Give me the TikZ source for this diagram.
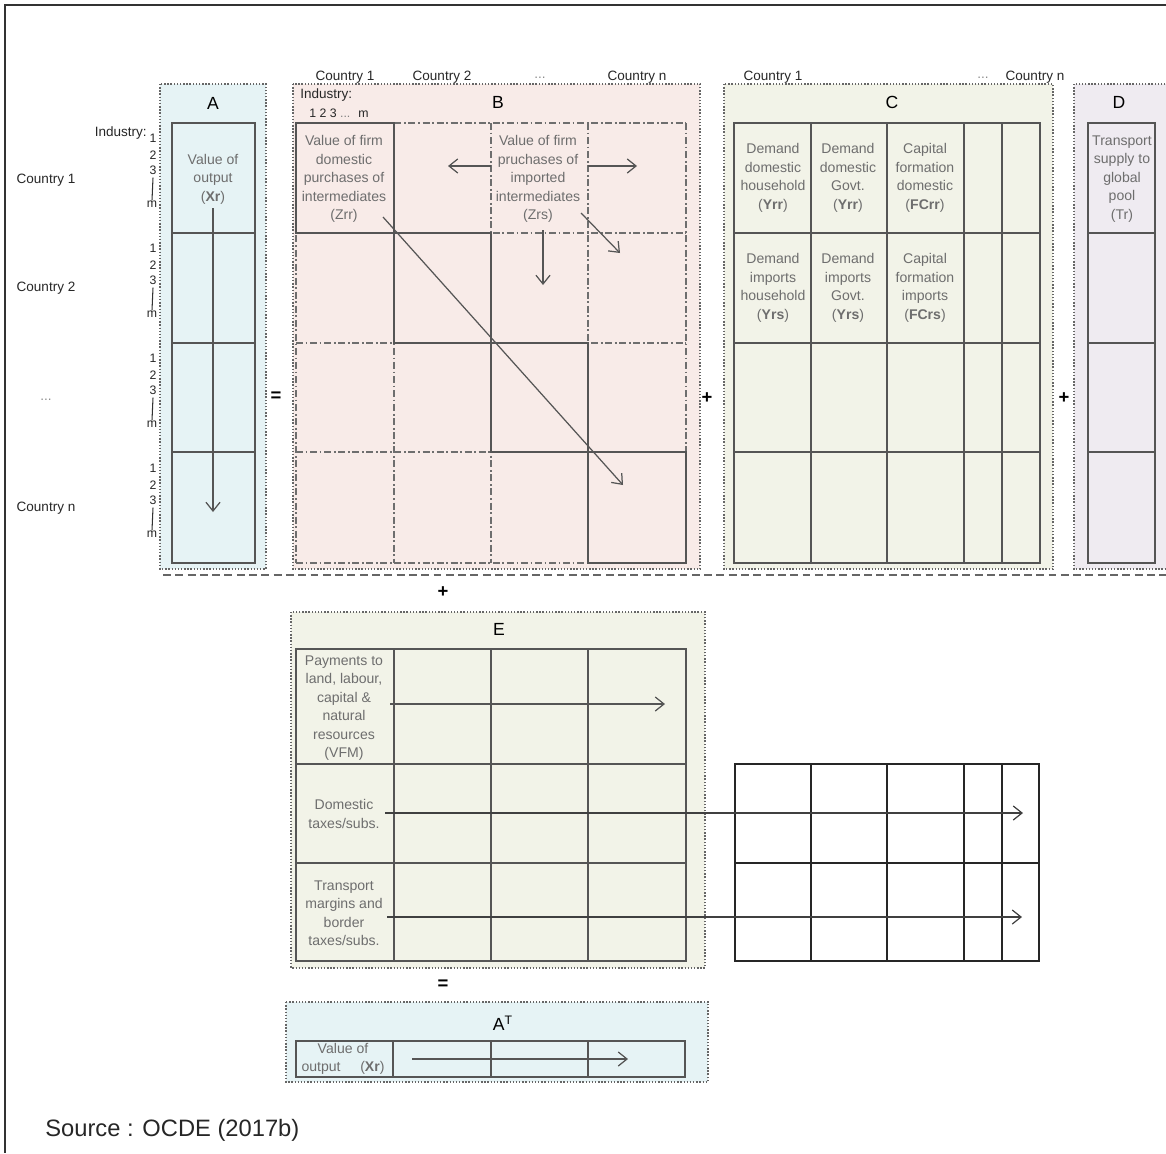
\documentclass[tikz,border=0pt]{standalone}
\usepackage{fontspec}
\setmainfont{Liberation Sans}
\usepackage{tikz}
\usetikzlibrary{positioning,arrows.meta,calc}
\definecolor{fillA}{HTML}{E6F3F5}
\definecolor{fillB}{HTML}{F8EBE8}
\definecolor{fillC}{HTML}{F2F3E8}
\definecolor{fillD}{HTML}{EFEBF1}
\definecolor{gridgray}{HTML}{555555}
\definecolor{textgray}{HTML}{6E6E6E}
\tikzstyle{panel}=[draw=black!60, densely dotted, line width=0.8pt]
\tikzstyle{cell}=[draw=gridgray, line width=0.85pt]
\tikzstyle{dashcell}=[draw=gridgray!85, line width=0.75pt, dash pattern=on 4pt off 1.5pt on 1pt off 1.5pt]
\tikzstyle{txt}=[text=textgray, align=center, inner sep=0pt, font=\fontsize{8}{10.5}\selectfont]
\tikzstyle{lbl}=[text=black!85, inner sep=0pt, font=\fontsize{7.7}{9}\selectfont]
\tikzstyle{num}=[text=black!85, inner sep=0pt, font=\fontsize{7}{8}\selectfont]
\tikzstyle{title}=[inner sep=0pt, font=\fontsize{10}{12}\selectfont]
\tikzstyle{op}=[inner sep=0pt, font=\fontsize{10.5}{11}\selectfont\bfseries]
\tikzstyle{arrow}=[-{Straight Barb[length=5pt,width=8pt]}, draw=gridgray, line width=0.7pt]

\begin{document}
\begin{tikzpicture}[x=0.02cm, y=-0.02cm]
    \clip (0,0) rectangle (1166,1153);
    \draw[black!80, line width=1pt] (1166,5) -- (5,5) -- (5,1153);

    % A
    \filldraw[panel, fill=fillA] (160,84) rectangle (266,569);
    \draw[cell] (172,123) rectangle (255,563);
    \foreach \y in {233,343,452} \draw[cell] (172,\y) -- (255,\y);
    \node[title] (titleA) at (213,103) {A};
    \node[txt] (valA) at (213,179) {Value of\\output\\(\textbf{Xr})};
    \coordinate (xtop) at (213,208); \coordinate (xbot) at (213,512);
    \draw[arrow] (xtop) -- (xbot);

    % countries and industries on the left
    \node[lbl, anchor=east] (indA) at (147,133) {Industry:};
    \foreach \n/\t/\y in {c1/Country 1/180, c2/Country 2/288, cn/Country n/508}
        \node[lbl] (left\n) at (46,\y) {\t};
    \node[lbl, text=black!45] (leftdots) at (46,400) {...};
    \foreach \k in {0,1,2,3} {
        \node[num] (one\k) at (153,{138+110*\k}) {1};
        \node[num] (two\k) at (153,{155+110*\k}) {2};
        \node[num] (three\k) at (153,{170+110*\k}) {3};
        \node[num] (m\k) at (152,{204+110*\k}) {m};
        \draw[black!80, line width=0.6pt] (three\k.south) ++(0,3) -- (m\k.north);
    }

    \node[op] (eq1) at (276,397) {=};

    % B
    \filldraw[panel, fill=fillB] (293,84) rectangle (700,569);
    \foreach \x in {296,394,491,588,686} \draw[dashcell] (\x,123) -- (\x,563);
    \foreach \y in {123,233,343,452,563} \draw[dashcell] (296,\y) -- (686,\y);
    \foreach \xa/\ya/\xb/\yb in {296/123/394/233, 394/233/491/343, 491/343/588/452, 588/452/686/563}
        \draw[cell] (\xa,\ya) rectangle (\xb,\yb);
    \node[title] (titleB) at (498,102) {B};
    \foreach \n/\t/\x in {b1/Country 1/345, b2/Country 2/442, bn/Country n/637}
        \node[lbl] (top\n) at (\x,77) {\t};
    \node[lbl, text=black!45] (topbdots) at (540,78) {...};
    \node[lbl, anchor=west] (indB) at (300,95) {Industry:};
    \node[num, anchor=west] (indBnum) at (309,113) {1 2 3 \textcolor{black!50}{...} \ m};
    \node[txt] (zrr) at (344,179) {Value of firm\\domestic\\purchases of\\intermediates\\(Zrr)};
    \node[txt] (zrs) at (538,179) {Value of firm\\pruchases of\\imported\\intermediates\\(Zrs)};

    \coordinate (zl0) at (491,166); \coordinate (zl1) at (448,166);
    \coordinate (zr0) at (588,166); \coordinate (zr1) at (637,166);
    \coordinate (zd0) at (543,230); \coordinate (zd1) at (543,285);
    \coordinate (zs0) at (581,213); \coordinate (zs1) at (620,253);
    \coordinate (zg0) at (383,217); \coordinate (zg1) at (623,485);
    \draw[arrow] (zl0) -- (zl1);
    \draw[arrow] (zr0) -- (zr1);
    \draw[arrow] (zd0) -- (zd1);
    \draw[arrow] (zs0) -- (zs1);
    \draw[arrow] (zg0) -- (zg1);

    \node[op] (plus1) at (707,398) {+};

    % C
    \filldraw[panel, fill=fillC] (724,84) rectangle (1053,569);
    \draw[cell] (734,123) rectangle (1040,563);
    \foreach \x in {811,887,964,1002} \draw[cell] (\x,123) -- (\x,563);
    \foreach \y in {233,343,452} \draw[cell] (734,\y) -- (1040,\y);
    \node[title] (titleC) at (892,102) {C};
    \node[lbl] (topc1) at (773,77) {Country 1};
    \node[lbl, text=black!45] (topcdots) at (983,78) {...};
    \node[lbl] (topcn) at (1035,77) {Country n};
    \node[txt] (yrrh) at (773,178) {Demand\\domestic\\household\\(\textbf{Yrr})};
    \node[txt] (yrrg) at (848,178) {Demand\\domestic\\Govt.\\(\textbf{Yrr})};
    \node[txt] (fcrr) at (925,178) {Capital\\formation\\domestic\\(\textbf{FCrr})};
    \node[txt] (yrsh) at (773,288) {Demand\\imports\\household\\(\textbf{Yrs})};
    \node[txt] (yrsg) at (848,288) {Demand\\imports\\Govt.\\(\textbf{Yrs})};
    \node[txt] (fcrs) at (925,288) {Capital\\formation\\imports\\(\textbf{FCrs})};

    \node[op] (plus2) at (1064,398) {+};

    % D
    \filldraw[panel, fill=fillD] (1074,84) rectangle (1185,569);
    \draw[cell] (1088,123) rectangle (1155,563);
    \foreach \y in {233,343,452} \draw[cell] (1088,\y) -- (1155,\y);
    \node[title] (titleD) at (1119,102) {D};
    \node[txt] (tr) at (1122,179) {Transport\\supply to\\global\\pool\\(Tr)};

    \draw[black!60, line width=0.8pt, dash pattern=on 4.5pt off 2.5pt] (163,575) -- (1166,575);

    \node[op] (plus3) at (443,592) {+};

    % E
    \filldraw[panel, fill=fillC] (291,612) rectangle (705,968);
    \draw[cell] (296,649) rectangle (686,961);
    \foreach \x in {394,491,588} \draw[cell] (\x,649) -- (\x,961);
    \foreach \y in {764,863} \draw[cell] (296,\y) -- (686,\y);
    \node[title] (titleE) at (499,629) {E};
    \node[txt] (vfm) at (344,708) {Payments to\\land, labour,\\capital \&\\natural\\resources\\(VFM)};
    \node[txt] (dtax) at (344,814) {Domestic\\taxes/subs.};
    \node[txt] (btax) at (344,913) {Transport\\margins and\\border\\taxes/subs.};

    % grid on the right
    \draw[black!85, line width=1pt] (735,764) rectangle (1039,961);
    \foreach \x in {811,887,964,1002} \draw[black!85, line width=1pt] (\x,764) -- (\x,961);
    \draw[black!85, line width=1pt] (735,863) -- (1039,863);

    \coordinate (e10) at (390,704); \coordinate (e11) at (665,704);
    \coordinate (e20) at (385,813); \coordinate (e21) at (1023,813);
    \coordinate (e30) at (387,917); \coordinate (e31) at (1022,917);
    \draw[arrow] (e10) -- (e11);
    \draw[arrow, draw=black!75] (e20) -- (e21);
    \draw[arrow, draw=black!75] (e30) -- (e31);

    \node[op] (eq2) at (443,985) {=};

    % A transposed
    \filldraw[panel, fill=fillA] (286,1002) rectangle (708,1082);
    \draw[cell] (296,1041) rectangle (685,1077);
    \foreach \x in {393,491,588} \draw[cell] (\x,1041) -- (\x,1077);
    \node[title] (titleAT) at (503,1023) {A\textsuperscript{\scriptsize T}};
    \node[txt] (valAT) at (343,1059) {Value of\\output\hspace{1.4em}(\textbf{Xr})};
    \coordinate (t0) at (412,1059); \coordinate (t1) at (628,1059);
    \draw[arrow] (t0) -- (t1);

    \node[anchor=west, inner sep=0pt, text=black!85, font=\fontsize{13.5}{16}\selectfont] (source) at (45,1130) {Source : OCDE (2017b)};
\end{tikzpicture}
\end{document}
